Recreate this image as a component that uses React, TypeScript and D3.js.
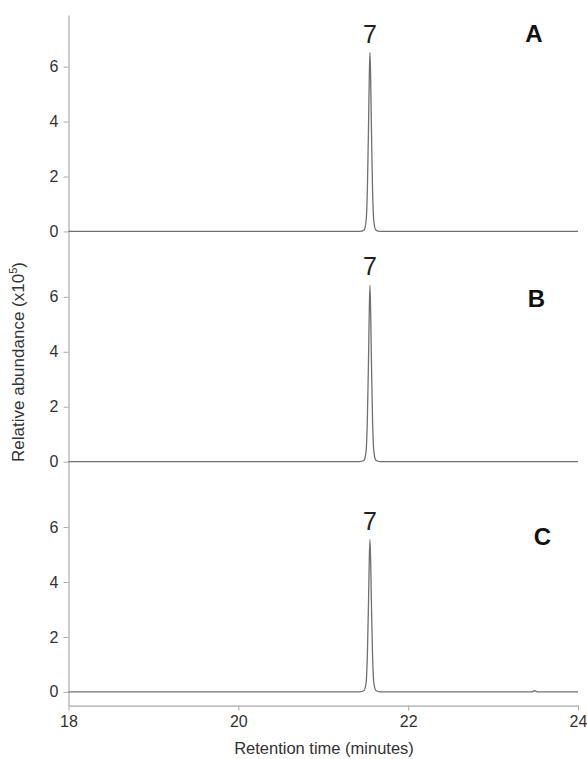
import React, { useRef, useEffect } from 'react';
import * as d3 from 'd3';

// traces: [retention time (min), abundance (x10^5)]
const traceA: [number, number][] = [
  [18, 0.0], [21.43, 0.0], [21.48, 0.05], [21.505, 0.4], [21.52, 1.6], [21.532, 3.6], [21.542, 5.6], [21.55, 6.51],
  [21.558, 5.6], [21.568, 3.6], [21.58, 1.6], [21.595, 0.4], [21.62, 0.05], [21.67, 0.0], [24, 0.0]
];
const traceB: [number, number][] = [
  [18, 0.0], [21.43, 0.0], [21.48, 0.05], [21.505, 0.4], [21.52, 1.6], [21.532, 3.5], [21.542, 5.5], [21.55, 6.42],
  [21.558, 5.5], [21.568, 3.5], [21.58, 1.6], [21.595, 0.4], [21.62, 0.05], [21.67, 0.0], [24, 0.0]
];
const traceC: [number, number][] = [
  [18, 0.0], [21.43, 0.0], [21.48, 0.05], [21.505, 0.35], [21.52, 1.4], [21.532, 3.1], [21.542, 4.8], [21.55, 5.54],
  [21.558, 4.8], [21.568, 3.1], [21.58, 1.4], [21.595, 0.35], [21.62, 0.05], [21.67, 0.0],
  [23.45, 0.0], [23.49, 0.04], [23.52, 0.0], [24, 0.0]
];
const panelNames = ['A', 'B', 'C'];
// panel letter anchors in data units [time, abundance]
const panelNamePos: [number, number][] = [[23.48, 6.9], [23.51, 5.63], [23.58, 5.33]];
const peakLabels = ['7', '7', '7'];
const peakTimes = [21.55, 21.55, 21.55];
const yTicks = [0, 2, 4, 6];
const xTicks = [18, 20, 22, 24];

export default function App() {
  const svgRef = useRef<SVGSVGElement>(null);

  useEffect(() => {
    const svg = d3.select(svgRef.current);
    svg.selectAll('*').remove();

    const left = 68.5, right = 578, top = 15, panelH = 230.2;
    const traces = [traceA, traceB, traceC];
    const font = 'Liberation Sans, Arial, sans-serif';

    const x = d3.scaleLinear().domain([18, 24]).range([left, right]);

    traces.forEach((tr, i) => {
      const y0 = top + i * panelH;
      const y = d3.scaleLinear().domain([-0.5, 7.88]).range([y0 + panelH, y0]);

      const ax = svg.append('g')
        .attr('transform', `translate(${left},0)`)
        .call(d3.axisLeft(y).tickValues(yTicks).tickFormat(d3.format('d')).tickSize(5).tickSizeOuter(0).tickPadding(5));
      ax.select('.domain').attr('stroke', '#aaa').attr('stroke-width', 1.2);
      ax.selectAll('.tick line').attr('stroke', '#aaa');
      ax.selectAll('.tick text').attr('fill', '#333').attr('font-size', 16).attr('font-family', font);

      const line = d3.line<[number, number]>().x(d => x(d[0])).y(d => y(d[1])).curve(d3.curveMonotoneX);
      svg.append('path')
        .datum(tr)
        .attr('d', line)
        .attr('fill', 'none')
        .attr('stroke', '#707070')
        .attr('stroke-width', 1.3);

      const peakMax = d3.max(tr, d => d[1]) as number;
      svg.append('text')
        .attr('x', x(peakTimes[i]))
        .attr('y', y(peakMax) - 10)
        .attr('text-anchor', 'middle')
        .attr('font-size', 25)
        .attr('font-family', font)
        .attr('fill', '#222')
        .text(peakLabels[i]);

      svg.append('text')
        .attr('x', x(panelNamePos[i][0]))
        .attr('y', y(panelNamePos[i][1]))
        .attr('text-anchor', 'middle')
        .attr('font-size', 24)
        .attr('font-weight', 'bold')
        .attr('font-family', font)
        .attr('fill', '#111')
        .text(panelNames[i]);
    });

    const bottom = top + 3 * panelH;
    const xa = svg.append('g')
      .attr('transform', `translate(0,${bottom})`)
      .call(d3.axisBottom(x).tickValues(xTicks).tickFormat(d3.format('d')).tickSize(5).tickSizeOuter(0).tickPadding(5));
    xa.select('.domain').attr('stroke', '#aaa').attr('stroke-width', 1.2);
    xa.selectAll('.tick line').attr('stroke', '#aaa');
    xa.selectAll('.tick text').attr('fill', '#333').attr('font-size', 16).attr('font-family', font);

    svg.append('text')
      .attr('x', 324)
      .attr('y', 754)
      .attr('text-anchor', 'middle')
      .attr('font-size', 16.5)
      .attr('font-family', font)
      .attr('fill', '#333')
      .text('Retention time (minutes)');

    const yl = svg.append('text')
      .attr('transform', 'translate(24,362) rotate(-90)')
      .attr('text-anchor', 'middle')
      .attr('font-size', 17)
      .attr('font-family', font)
      .attr('fill', '#333');
    yl.append('tspan').text('Relative abundance (x10');
    yl.append('tspan').attr('font-size', 11).attr('dy', -7).text('5');
    yl.append('tspan').attr('dy', 7).text(')');
  }, []);

  return (
    <svg ref={svgRef} width={587} height={759}
      style={{ position: 'absolute', left: 0, top: 0, background: '#fff' }} />
  );
}
